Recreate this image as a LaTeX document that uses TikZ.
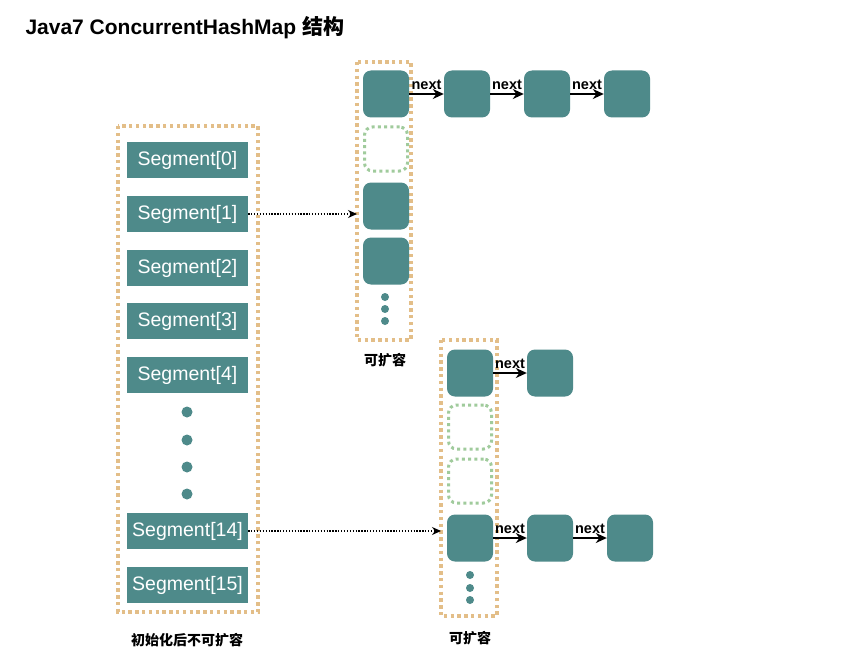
\documentclass[tikz,border=0pt]{standalone}
\usepackage{fontspec}
\setmainfont{Liberation Sans}
\newfontfamily\cjk{Noto Sans CJK SC}
\usetikzlibrary{arrows.meta}
\definecolor{teal1}{HTML}{4E8A8A}
\definecolor{orng}{HTML}{E3BE88}
\definecolor{grn}{HTML}{A0CB9C}
\begin{document}
\begin{tikzpicture}[x=1pt,y=-1pt,
  seg/.style={draw=none,fill=teal1,minimum width=121pt,minimum height=36pt,inner sep=0pt,text=white,font=\fontsize{19.5}{19.5}\selectfont},
  cell/.style={fill=teal1,rounded corners=8pt,minimum width=46pt,minimum height=47pt,inner sep=0pt},
  gcell/.style={draw=grn,line width=3pt,dash pattern=on 3pt off 3.2pt,rounded corners=8pt,minimum width=43pt,minimum height=44pt,inner sep=0pt},
  cont/.style={draw=orng,line width=3.4pt,dash pattern=on 3.4pt off 3.4pt},
  dotc/.style={circle,fill=teal1,inner sep=0pt,minimum size=#1},
  nxt/.style={-{Stealth[length=11pt,width=10pt]},line width=1.8pt},
  nlab/.style={font=\bfseries\fontsize{14.5}{14.5}\selectfont,above,inner sep=3pt},
  dotarrow/.style={-{Stealth[length=9pt,width=8pt]},line width=1.3pt,dash pattern=on 1.3pt off 1.6pt},
  lab/.style={font=\cjk\bfseries\fontsize{14}{14}\selectfont}]
\useasboundingbox (0,0) rectangle (866,663);
\fill[white] (0,0) rectangle (866,663);
% title
\node[anchor=west,font=\bfseries\fontsize{21}{21}\selectfont] (title) at (22,28) {Java7 ConcurrentHashMap {\cjk 结构}};
% left container
\draw[cont] (118,126) rectangle (258,612);
\node[seg] (s0) at (187.5,160) {Segment[0]};
\node[seg] (s1) at (187.5,214) {Segment[1]};
\node[seg] (s2) at (187.5,268) {Segment[2]};
\node[seg] (s3) at (187.5,321) {Segment[3]};
\node[seg] (s4) at (187.5,375) {Segment[4]};
\node[dotc=11pt] (d1) at (187,412) {};
\node[dotc=11pt] (d2) at (187,440) {};
\node[dotc=11pt] (d3) at (187,467) {};
\node[dotc=11pt] (d4) at (187,494) {};
\node[seg] (s14) at (187.5,531) {Segment[14]};
\node[seg] (s15) at (187.5,585) {Segment[15]};
\node[lab] (l1) at (187,640) {初始化后不可扩容};
% top array
\draw[cont] (357,62) rectangle (411,340);
\node[cell] (a0) at (386,94) {};
\node[gcell] (a1) at (386,149) {};
\node[cell] (a2) at (386,206) {};
\node[cell] (a3) at (386,261) {};
\node[dotc=8pt] (ad1) at (385,297) {};
\node[dotc=8pt] (ad2) at (385,309) {};
\node[dotc=8pt] (ad3) at (385,321) {};
\node[lab] (l2) at (385,360) {可扩容};
\node[cell] (b1) at (467,94) {};
\node[cell] (b2) at (547,94) {};
\node[cell] (b3) at (627,94) {};
\draw[nxt] (a0) -- node[nlab]{next} (b1);
\draw[nxt] (b1) -- node[nlab]{next} (b2);
\draw[nxt] (b2) -- node[nlab]{next} (b3);
\coordinate (t1) at (357,214);
\draw[dotarrow] (s1.east) -- (t1);
% bottom array
\draw[cont] (441,340) rectangle (497,616);
\node[cell] (c0) at (470,373) {};
\node[gcell] (c1) at (470,427) {};
\node[gcell] (c2) at (470,481) {};
\node[cell] (c3) at (470,538) {};
\node[dotc=8pt] (cd1) at (470,575) {};
\node[dotc=8pt] (cd2) at (470,588) {};
\node[dotc=8pt] (cd3) at (470,600) {};
\node[lab] (l3) at (470,638) {可扩容};
\node[cell] (e1) at (550,373) {};
\draw[nxt] (c0) -- node[nlab]{next} (e1);
\node[cell] (f1) at (550,538) {};
\node[cell] (f2) at (630,538) {};
\draw[nxt] (c3) -- node[nlab]{next} (f1);
\draw[nxt] (f1) -- node[nlab]{next} (f2);
\coordinate (t2) at (441,531);
\draw[dotarrow] (s14.east) -- (t2);
\end{tikzpicture}
\end{document}
